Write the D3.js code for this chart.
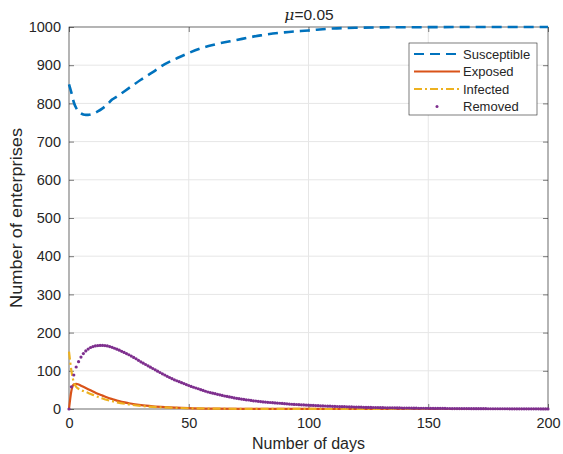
<!DOCTYPE html>
<html>
<head>
<meta charset="utf-8">
<script src="https://cdn.jsdelivr.net/npm/d3@7"></script>
<style>
  body { margin: 0; background: #fff; }
  text { font-family: "Liberation Sans", Arial, Helvetica, sans-serif; fill: #262626; }
</style>
</head>
<body>
<svg width="563" height="454"></svg>
<script>
// values
var xTicks = [0, 50, 100, 150, 200];
var yTicks = [0, 100, 200, 300, 400, 500, 600, 700, 800, 900, 1000];

var sDays = [0,1,2,3,4,5,6,7,8,9,10,12,14,16,18,20,25,30,35,40,45,50,55,60,70,80,90,100,110,120,130,150,175,200];
var sVals = [850,828,803,788,779,774,771,770,770,771,773,779,787,797,810,818,840,862,882,903,918,932,944,953,966,978,986,991,996,998,999,999.6,1000,1000];

var eDays = [0,1,2,3,4,5,6,8,10,12,14,16,18,20,25,30,35,40,50,60,80,100,130,160,200];
var eVals = [0,48,64,66,64,61,58,52,46,40,35,30,26,22,15,10,7,5,2.5,1.2,0.3,0.1,0,0,0];

var iDays = [0,1,2,3,4,5,6,8,10,12,14,16,18,20,25,30,35,40,50,60,80,100,130,160,200];
var iVals = [150,100,70,58,53,50,47,42,37,32,27.5,23.5,20.5,17.5,12,8,5.5,4,2,1,0.3,0.1,0,0,0];

// removed, one value per day (0..200)
var rVals = [
  0,58,89,110,124,136,145,152,157,161,163.5,165,166,166.5,166.5,166,165,163.5,161.5,159,
  156.5,154,151,148,145,142,138.5,135,131.5,127.5,123.5,120,116.5,113,109.5,106,102.5,99,95.5,92,
  89,85.5,82.5,79.5,76.5,74,71.5,69,66.5,64,61.5,59,57,55,53,50.5,48.5,46.5,44.5,43,
  41.5,40,38.5,37,35.5,34,33,31.5,30.5,29,28,27,26,25,24,23.5,22.5,21.5,21,20,
  19.5,18.5,18,17.5,17,16.5,16,15.5,15,14.5,14,13.5,13,12.5,12,11.8,11.4,11,10.6,10.3,
  10,9.6,9.3,9,8.7,8.4,8.1,7.8,7.5,7.3,7,6.8,6.6,6.4,6.2,6,5.8,5.6,5.4,5.2,
  5,4.8,4.7,4.5,4.4,4.2,4.1,3.9,3.8,3.7,3.5,3.4,3.3,3.2,3.1,3,2.9,2.8,2.7,2.6,
  2.5,2.4,2.3,2.2,2.2,2.1,2,1.9,1.9,1.8,1.7,1.7,1.6,1.6,1.5,1.5,1.4,1.4,1.3,1.3,
  1.2,1.2,1.1,1.1,1.1,1,1,1,0.9,0.9,0.9,0.8,0.8,0.8,0.8,0.7,0.7,0.7,0.7,0.6,
  0.6,0.6,0.6,0.6,0.5,0.5,0.5,0.5,0.5,0.5,0.4,0.4,0.4,0.4,0.4,0.4,0.4,0.3,0.3,0.3,
  0.3
];
var rDays = d3.range(0, rVals.length);

var legendNames = ["Susceptible", "Exposed", "Infected", "Removed"];
var colors = ["#0072BD", "#D95319", "#EDB120", "#7E2F8E"];

var m = {left: 69, right: 548, top: 27, bottom: 409};
var svg = d3.select("svg");

var x = d3.scaleLinear().domain([0, 200]).range([m.left, m.right]);
var y = d3.scaleLinear().domain([0, 1000]).range([m.bottom, m.top]);

// grid
var grid = svg.append("g").attr("stroke", "#e6e6e6").attr("stroke-width", 1);
grid.selectAll(".gx").data(xTicks).enter().append("line")
  .attr("x1", d => x(d)).attr("x2", d => x(d))
  .attr("y1", m.top).attr("y2", m.bottom);
grid.selectAll(".gy").data(yTicks).enter().append("line")
  .attr("x1", m.left).attr("x2", m.right)
  .attr("y1", d => y(d)).attr("y2", d => y(d));

// axes (ticks inward, box on)
var axisColor = "#262626";
function styleAxis(g){
  g.select(".domain").remove();
  g.selectAll(".tick line").attr("stroke", axisColor).attr("stroke-width", 0.6);
  g.selectAll(".tick text").attr("font-size", 14.5).attr("fill", axisColor)
    .style("font-family", "'Liberation Sans', Arial, sans-serif");
}
svg.append("g").attr("transform", "translate(0," + m.bottom + ")")
  .call(d3.axisBottom(x).tickValues(xTicks).tickSize(-5).tickPadding(9).tickFormat(d3.format("d")))
  .call(styleAxis);
svg.append("g").attr("transform", "translate(0," + m.top + ")")
  .call(d3.axisTop(x).tickValues(xTicks).tickSize(-5).tickFormat(""))
  .call(styleAxis);
svg.append("g").attr("transform", "translate(" + m.left + ",0)")
  .call(d3.axisLeft(y).tickValues(yTicks).tickSize(-5).tickPadding(8).tickFormat(d3.format("d")))
  .call(styleAxis);
svg.append("g").attr("transform", "translate(" + m.right + ",0)")
  .call(d3.axisRight(y).tickValues(yTicks).tickSize(-5).tickFormat(""))
  .call(styleAxis);

svg.append("rect")
  .attr("x", m.left).attr("y", m.top)
  .attr("width", m.right - m.left).attr("height", m.bottom - m.top)
  .attr("fill", "none").attr("stroke", axisColor).attr("stroke-width", 0.6);

// series
var plot = svg.append("g");
function drawLine(days, vals, color, dash, width){
  var pts = days.map((d, i) => [d, vals[i]]);
  var line = d3.line().x(d => x(d[0])).y(d => y(d[1])).curve(d3.curveMonotoneX);
  return plot.append("path").datum(pts)
    .attr("d", line)
    .attr("fill", "none")
    .attr("stroke", color)
    .attr("stroke-width", width)
    .attr("stroke-dasharray", dash);
}
drawLine(sDays, sVals, colors[0], "10,6", 2.6);
drawLine(eDays, eVals, colors[1], null, 2.2);
drawLine(iDays, iVals, colors[2], "8,3,2,3", 2.2);

plot.selectAll(".rdot").data(rDays).enter().append("circle")
  .attr("cx", d => x(d))
  .attr("cy", d => y(rVals[d]))
  .attr("r", 1.6)
  .attr("fill", colors[3]);

// title & labels
var title = svg.append("text").attr("x", 309).attr("y", 20)
  .attr("text-anchor", "middle").attr("font-size", 15.5);
title.append("tspan").attr("font-style", "italic").style("font-family", "'DejaVu Serif', serif").text("μ");
title.append("tspan").text("=0.05");

svg.append("text").attr("x", (m.left + m.right) / 2).attr("y", 449)
  .attr("text-anchor", "middle").attr("font-size", 16).text("Number of days");
svg.append("text")
  .attr("transform", "translate(22," + ((m.top + m.bottom) / 2) + ") rotate(-90)")
  .attr("text-anchor", "middle").attr("font-size", 16)
  .attr("textLength", 180).attr("lengthAdjust", "spacingAndGlyphs")
  .text("Number of enterprises");

// legend
var lg = svg.append("g").attr("transform", "translate(409,43)");
lg.append("rect").attr("width", 128).attr("height", 72)
  .attr("fill", "#fff").attr("stroke", axisColor).attr("stroke-width", 0.6);
var rows = lg.selectAll(".row").data(legendNames).enter().append("g")
  .attr("transform", (d, i) => "translate(0," + (11 + i * 17.5) + ")");
rows.append("text").attr("x", 54).attr("y", 4.5).attr("font-size", 13).text(d => d);
var dashes = ["10,6", null, "8,3,2,3"];
rows.filter((d, i) => i < 3).append("line")
  .attr("x1", 5).attr("x2", 51).attr("y1", 0).attr("y2", 0)
  .attr("stroke", (d, i) => colors[i])
  .attr("stroke-width", 2.2)
  .attr("stroke-dasharray", (d, i) => dashes[i]);
rows.filter((d, i) => i === 3).append("circle")
  .attr("cx", 28).attr("cy", 0).attr("r", 1.5).attr("fill", colors[3]);
</script>
</body>
</html>
